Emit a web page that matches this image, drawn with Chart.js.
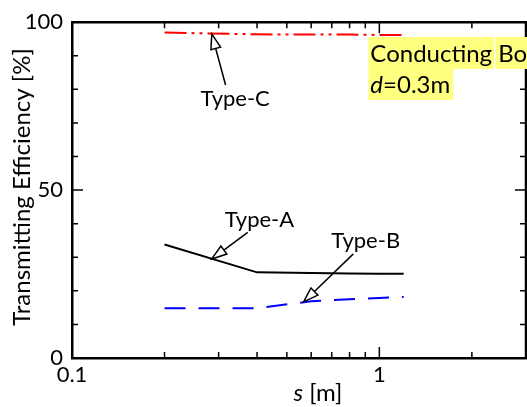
<!DOCTYPE html>
<html>
<head>
<meta charset="utf-8">
<script src="https://cdn.jsdelivr.net/npm/chart.js@4.4.0/dist/chart.umd.min.js"></script>
<style>
  body { margin: 0; background: #fff; }
</style>
</head>
<body>
<canvas id="effChart" width="527" height="407"></canvas>
<script>
// spacing s [m]
var sValues = [0.2, 0.4, 0.6, 0.8, 1.0, 1.2];
var typeA = [33.8, 25.5, 25.3, 25.2, 25.1, 25.1];
var typeB = [14.8, 14.8, 16.9, 17.5, 17.9, 18.2];
var typeC = [96.9, 96.4, 96.3, 96.3, 96.2, 96.2];

var xMajor = [0.1, 1];
var xMinor = [0.2, 0.3, 0.4, 0.5, 0.6, 0.7, 0.8, 0.9, 2, 3];
var yMajor = [0, 50, 100];
var yMinor = [10, 20, 30, 40, 60, 70, 80, 90];

// annotation arrows, in data units
var labels = ["Type-A", "Type-B", "Type-C"];
var labelPos = [[0.314, 38.9], [0.698, 32.7], [0.262, 74.9]];
var arrowTail = [[0.373, 37.4], [0.823, 31.0], [0.316, 81.3]];
var arrowTip = [[0.285, 29.5], [0.567, 16.7], [0.285, 96.5]];

var boxText = ["Conducting", "Box", "=0.3m"];

const FONT = "Lato, 'Open Sans', sans-serif";

function toPts(values) {
  return values.map((v, i) => ({ x: sValues[i], y: v }));
}

function drawArrow(ctx, x1, y1, x2, y2) {
  let ang = Math.atan2(y2 - y1, x2 - x1);
  let len = 15, half = 5;
  let bx = x2 - len * Math.cos(ang);
  let by = y2 - len * Math.sin(ang);
  ctx.beginPath();
  ctx.moveTo(x1, y1);
  ctx.lineTo(bx, by);
  ctx.stroke();
  ctx.beginPath();
  ctx.moveTo(x2, y2);
  ctx.lineTo(bx + half * Math.sin(ang), by - half * Math.cos(ang));
  ctx.lineTo(bx - half * Math.sin(ang), by + half * Math.cos(ang));
  ctx.closePath();
  ctx.fillStyle = "#fff";
  ctx.fill();
  ctx.stroke();
}

const decorations = {
  id: "decorations",
  afterDraw(chart) {
    const ctx = chart.ctx;
    const xs = chart.scales.x;
    const ys = chart.scales.y;
    const a = chart.chartArea;
    ctx.save();
    ctx.strokeStyle = "#000";
    ctx.lineWidth = 2.5;
    // top and right frame
    ctx.beginPath();
    ctx.moveTo(a.left, a.top);
    ctx.lineTo(a.right, a.top);
    ctx.lineTo(a.right, a.bottom);
    ctx.stroke();

    // inward ticks
    ctx.lineWidth = 1.5;
    function xTick(v, len) {
      let px = xs.getPixelForValue(v);
      ctx.beginPath();
      ctx.moveTo(px, a.bottom); ctx.lineTo(px, a.bottom - len);
      ctx.moveTo(px, a.top); ctx.lineTo(px, a.top + len);
      ctx.stroke();
    }
    function yTick(v, len) {
      let py = ys.getPixelForValue(v);
      ctx.beginPath();
      ctx.moveTo(a.left, py); ctx.lineTo(a.left + len, py);
      ctx.moveTo(a.right, py); ctx.lineTo(a.right - len, py);
      ctx.stroke();
    }
    xMajor.forEach((v) => xTick(v, 11));
    xMinor.forEach((v) => xTick(v, 6));
    yMajor.forEach((v) => yTick(v, 11));
    yMinor.forEach((v) => yTick(v, 6));

    // arrows and their labels
    ctx.lineWidth = 1.5;
    ctx.font = "22px " + FONT;
    ctx.textBaseline = "alphabetic";
    ctx.textAlign = "left";
    for (let i = 0; i < labels.length; i++) {
      drawArrow(ctx,
        xs.getPixelForValue(arrowTail[i][0]), ys.getPixelForValue(arrowTail[i][1]),
        xs.getPixelForValue(arrowTip[i][0]), ys.getPixelForValue(arrowTip[i][1]));
      ctx.fillStyle = "#000";
      ctx.fillText(labels[i], xs.getPixelForValue(labelPos[i][0]), ys.getPixelForValue(labelPos[i][1]));
    }

    // highlighted box label
    let bx = xs.getPixelForValue(0.921);
    ctx.font = "24px " + FONT;
    let cw = ctx.measureText(boxText[0]).width;
    let spw = ctx.measureText(" ").width;
    ctx.font = "italic 24px " + FONT;
    let dw = ctx.measureText("d").width;
    ctx.font = "24px " + FONT;
    let line2w = dw + ctx.measureText(boxText[2]).width;
    ctx.fillStyle = "#ffff80";
    ctx.fillRect(bx, 37, a.right + 2 - bx, 32);
    ctx.fillRect(bx, 69, line2w + 5, 31);
    ctx.fillStyle = "#fff";
    ctx.fillRect(bx + 2 + cw + spw * 0.3, 37, 1.5, 32);
    ctx.fillStyle = "#000";
    ctx.fillText(boxText[0], bx + 2, 62);
    ctx.fillText(boxText[1], bx + 2 + cw + spw, 62);
    ctx.font = "italic 24px " + FONT;
    ctx.fillText("d", bx + 2, 93);
    ctx.font = "24px " + FONT;
    ctx.fillText(boxText[2], bx + 2 + dw, 93);

    // axis titles
    ctx.save();
    ctx.translate(30, 187);
    ctx.rotate(-Math.PI / 2);
    ctx.textAlign = "center";
    ctx.font = "24px " + FONT;
    ctx.fillText("Transmitting Efficiency [%]", 0, 0);
    ctx.restore();

    ctx.font = "italic 24px " + FONT;
    let sw = ctx.measureText("s").width;
    ctx.font = "24px " + FONT;
    let rest = " [m]";
    let rw = ctx.measureText(rest).width;
    let sx = 318 - (sw + rw) / 2;
    ctx.font = "italic 24px " + FONT;
    ctx.fillText("s", sx, 401);
    ctx.font = "24px " + FONT;
    ctx.fillText(rest, sx + sw, 401);
    ctx.restore();
  },
};

new Chart("effChart", {
  type: "line",
  data: {
    datasets: [
      {
        label: "Type-A",
        data: toPts(typeA),
        borderColor: "#000",
        borderWidth: 2,
        pointRadius: 0,
        fill: false,
      },
      {
        label: "Type-B",
        data: toPts(typeB),
        borderColor: "#0000ff",
        borderWidth: 2,
        borderDash: [21, 13],
        pointRadius: 0,
        fill: false,
      },
      {
        label: "Type-C",
        data: toPts(typeC),
        borderColor: "#ff0000",
        borderWidth: 2,
        borderDash: [22, 5, 3, 5, 3, 5],
        pointRadius: 0,
        fill: false,
      },
    ],
  },
  options: {
    responsive: false,
    animation: false,
    layout: { padding: { top: 16, right: 1, left: 0, bottom: 0 } },
    plugins: { legend: { display: false }, tooltip: { enabled: false } },
    scales: {
      x: {
        type: "logarithmic",
        min: 0.1,
        max: 3,
        grid: { display: false, drawTicks: false },
        border: { display: true, color: "#000", width: 2.5 },
        afterBuildTicks: (s) => { s.ticks = xMajor.map((v) => ({ value: v })); },
        afterFit: (s) => { s.height = 49; },
        ticks: {
          autoSkip: false,
          maxRotation: 0,
          padding: 4,
          color: "#000",
          font: { family: FONT, size: 22 },
          callback: (v) => String(v),
        },
      },
      y: {
        min: 0,
        max: 100,
        grid: { display: false, drawTicks: false },
        border: { display: true, color: "#000", width: 2.5 },
        afterBuildTicks: (s) => { s.ticks = yMajor.map((v) => ({ value: v })); },
        afterFit: (s) => { s.width = 72; },
        ticks: {
          padding: 9,
          color: "#000",
          font: { family: FONT, size: 22 },
          callback: (v) => String(v),
        },
      },
    },
  },
  plugins: [decorations],
});
</script>
</body>
</html>
